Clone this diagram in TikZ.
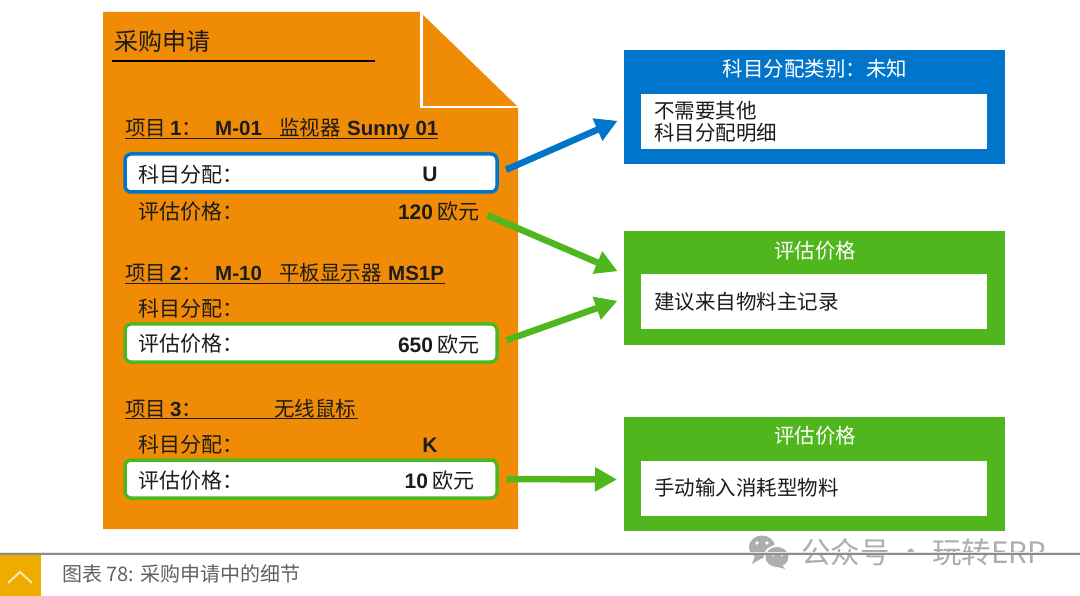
\documentclass[tikz,border=0pt]{standalone}
\usepackage{fontspec}
\setmainfont{Noto Sans CJK SC}
\newfontfamily\latfont{Liberation Sans}
\newcommand{\gras}[1]{{\latfont\bfseries #1}}
\usepackage{xcolor}
\definecolor{cOrange}{RGB}{240,139,5}
\definecolor{cBleu}{RGB}{0,117,201}
\definecolor{cVert}{RGB}{80,182,30}
\definecolor{cJaune}{RGB}{240,171,0}
\definecolor{cTexte}{RGB}{28,28,28}
\usetikzlibrary{positioning,arrows.meta}
\tikzset{
	fleche/.style={line width=6.5pt, -{Triangle[length=22pt,width=23pt]}, shorten <=8pt, shorten >=7pt},
	ligne/.style={font=\fontsize{21}{24}\selectfont, text=cTexte, anchor=west, inner sep=0pt, yshift=-1pt},
	titreItem/.style={font=\fontsize{20.5}{24}\selectfont, text=cTexte, anchor=base west, inner sep=0pt},
	cadre/.style={draw=#1, line width=3.5pt, fill=white, rounded corners=6pt, minimum width=372pt, minimum height=38pt, inner sep=0pt},
	panneau/.style={fill=#1, minimum width=381pt, minimum height=114pt, inner sep=0pt},
	contenu/.style={fill=white, minimum width=346pt, minimum height=55pt, inner sep=0pt},
	titrePan/.style={font=\fontsize{20.5}{24}\selectfont, text=white, inner sep=0pt},
	textePan/.style={font=\fontsize{20.5}{22}\selectfont, text=cTexte, anchor=west, align=left, inner sep=0pt},
	marque/.style={text=black!32, inner sep=0pt}
}
\begin{document}
\begin{tikzpicture}[x=1pt,y=-1pt]
	\useasboundingbox (0,0) rectangle (1080,596);
	
	% Feuille
	\fill[cOrange] (103,12) -- (420,12) -- (518,107) -- (518,529) -- (103,529) -- cycle;
	\draw[white, line width=2.5pt] (421.5,12) -- (421.5,107) -- (518,107);
	\node[inner sep=0pt, anchor=west, text=cTexte, font=\fontsize{24}{28}\selectfont] (titreDoc) at (114,41) {采购申请};
	\draw[black, line width=2.5pt] (112,61) -- (375,61);
	
	% Cadres des lignes
	\node[cadre=cBleu] (cadreA) at (311,173) {};
	\node[cadre=cVert] (cadreB) at (311,343) {};
	\node[cadre=cVert] (cadreC) at (311,479) {};
	
	% Titres des articles
	\node[titreItem] (itemA) at (125,136) {项目};
	\node[titreItem] (numA) at (170,136) {\gras{1}：};
	\node[titreItem] (codeA) at (215,136) {\gras{M-01}};
	\node[titreItem] (nomA) at (279,136) {监视器};
	\node[titreItem] (marqueA) at (347,136) {\gras{Sunny 01}};
	\draw[cTexte, line width=0.8pt] (125,138.5) -- (438,138.5);
	\node[titreItem] (itemB) at (125,281) {项目};
	\node[titreItem] (numB) at (170,281) {\gras{2}：};
	\node[titreItem] (codeB) at (215,281) {\gras{M-10}};
	\node[titreItem] (nomB) at (279,281) {平板显示器};
	\node[titreItem] (marqueB) at (388,281) {\gras{MS1P}};
	\draw[cTexte, line width=0.8pt] (125,283) -- (445,283);
	\node[titreItem] (itemC) at (125,416) {项目};
	\node[titreItem] (numC) at (170,416) {\gras{3}：};
	\node[titreItem] (nomC) at (274,416) {无线鼠标};
	\draw[cTexte, line width=0.8pt] (125,418) -- (358,418);
	
	% Libellés, lignes 1..3
	\foreach \nom/\ya/\yb in {A/174/211, B/308/343, C/444/480}{
		\node[ligne] (compte\nom) at (138,\ya) {科目分配：};
		\node[ligne] (prix\nom) at (138,\yb) {评估价格：};
	}
	
	% Valeurs
	\node[ligne, anchor=center] (valU) at (430,173) {\gras{U}};
	\node[ligne, anchor=center] (valK) at (430,444) {\gras{K}};
	\node[ligne, anchor=east] (valA) at (480,211) {\gras{120} 欧元};
	\node[ligne, anchor=east] (valB) at (480,344) {\gras{650} 欧元};
	\node[ligne, anchor=east] (valC) at (475,480) {\gras{10} 欧元};
	
	% Panneaux de droite
	\foreach \nom/\yc/\yi/\coul/\titre/\txt in {
		P/107/122/cBleu/{科目分配类别：未知}/{不需要其他\\科目分配明细},
		Q/288.5/301.5/cVert/{评估价格}/{建议来自物料主记录},
		R/473.5/488/cVert/{评估价格}/{手动输入消耗型物料}}{
		\node[panneau=\coul] (pan\nom) at (814.5,\yc) {};
		\node[contenu] (int\nom) at (814,\yi) {};
		\node[titrePan] (titre\nom) at (815,\yc-38) {\titre};
		\node[textePan] (texte\nom) at (654,\yi) {\txt};
	}
	
	% Points d'arrivée
	\coordinate (butA) at (624,118);
	\coordinate (butB) at (624,274);
	\coordinate (butC) at (624,298.5);
	\coordinate (butD) at (624,479.5);
	
	% Flèches
	\draw[fleche, cBleu] (cadreA.east) -- (butA);
	\draw[fleche, cVert] (valA.east) -- (butB);
	\draw[fleche, cVert] (cadreB.east) -- (butC);
	\draw[fleche, cVert] (cadreC.east) -- (butD);
	
	% Filigrane
	\fill[black!32] (762,547) ellipse (13pt and 11.5pt);
	\fill[black!32] (755,556) -- (752,564) -- (764,557) -- cycle;
	\fill[white] (777,557) ellipse (13.5pt and 12pt);
	\fill[black!32] (777,557) ellipse (11.5pt and 10pt);
	\fill[black!32] (781,564) -- (785,569) -- (774,566) -- cycle;
	\foreach \ex/\ey/\er in {757/543/1.8, 767/543/1.8, 773/555/1.4, 782/555/1.4}{
		\fill[white] (\ex,\ey) circle (\er pt);
	}
	\node[marque, anchor=west, font=\fontsize{29.5}{32}\selectfont] (marqueEcran) at (801,552) {公众号 · 玩转ERP};
	
	% Pied de page
	\draw[black!10, line width=1pt] (0,552) -- (1080,552);
	\draw[black!45, line width=2pt] (0,554) -- (1080,554);
	\fill[cJaune] (0,555) rectangle (41,596);
	\draw[white!70!cJaune, line width=2pt] (8,583) -- (20,572) -- (32,583);
	\node[inner sep=0pt, anchor=west, text=black!62, font=\fontsize{20}{24}\selectfont] (legende) at (62,574) {图表 78: 采购申请中的细节};
\end{tikzpicture}
\end{document}
